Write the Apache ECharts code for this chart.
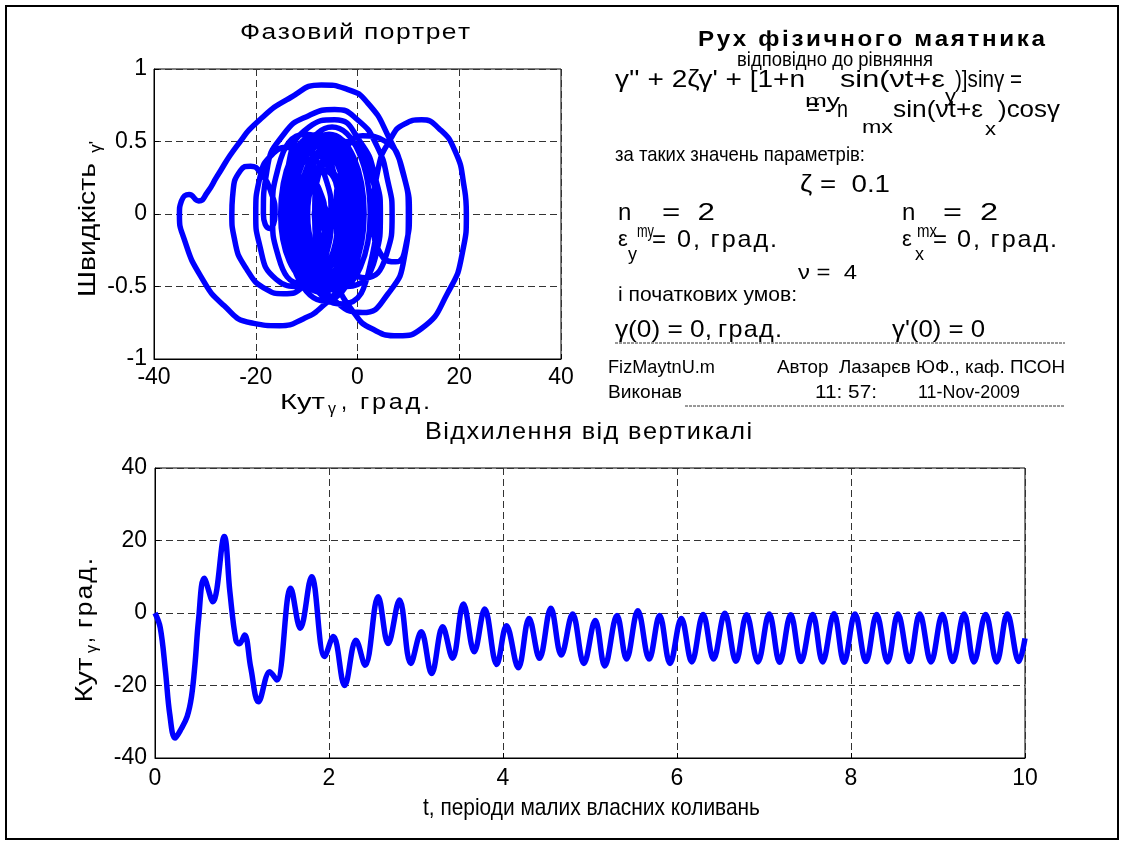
<!DOCTYPE html>
<html>
<head>
<meta charset="utf-8">
<script src="https://cdn.jsdelivr.net/npm/echarts@6/dist/echarts.min.js"></script>
<style>
  html, body { margin: 0; padding: 0; background: #fff; }
  #chart { width: 1126px; height: 848px; }
</style>
</head>
<body>
<div id="chart"></div>
<script>
// bottom plot: deflection from vertical (deg) vs time (periods of small oscillations)
const timeT = [
  0, 0.06, 0.12, 0.17, 0.23, 0.30, 0.37, 0.42, 0.46, 0.50,
  0.565, 0.665, 0.796, 0.86, 0.93, 0.97, 1.03, 1.10, 1.19, 1.32,
  1.40, 1.56, 1.67, 1.80, 1.95, 2.05, 2.18, 2.31, 2.415, 2.565,
  2.68, 2.81, 2.94, 3.06, 3.18, 3.307, 3.42, 3.545, 3.67, 3.79,
  3.928, 4.04, 4.176, 4.30, 4.42, 4.55, 4.67, 4.80, 4.93, 5.06,
  5.17, 5.31, 5.42, 5.55, 5.68, 5.80, 5.92, 6.05, 6.17, 6.30,
  6.42, 6.55, 6.678, 6.80, 6.93, 7.06, 7.18, 7.307, 7.425, 7.56,
  7.674, 7.805, 7.92, 8.046, 8.172, 8.295, 8.42, 8.54, 8.67, 8.79,
  8.92, 9.05, 9.17, 9.30, 9.414, 9.548, 9.675, 9.797, 9.93, 10.0
];
const angleDeg = [
  0, -4, -16, -28, -34.5, -32, -28.5, -23, -14, -2,
  9.6, 3.1, 21.1, 6, -7.5, -8.5, -6.1, -15, -24.5, -16.2,
  -18.5, 6.8, -4.2, 10, -12, -6.5, -20, -7.5, -14.4, 4.5,
  -8.4, 3.6, -13.9, -5.2, -16.7, -3.8, -12.5, 2.5, -10.7, 1.1,
  -14.2, -3.5, -15.1, -1.5, -12.5, 1.3, -11.6, -0.3, -13.9, -2.1,
  -14.6, -0.7, -12.7, 0.6, -12.7, -0.7, -13.9, -1.5, -13.5, -0.4,
  -12.7, -0.1, -13.3, -0.5, -13.5, -0.3, -13.6, -0.5, -13.4, -0.4,
  -13.5, -0.2, -13.6, -0.3, -13.4, -0.4, -13.5, -0.3, -13.4, -0.3,
  -13.5, -0.4, -13.4, -0.3, -13.5, -0.4, -13.5, -0.3, -13.4, -7
];

// top plot: phase portrait, angle (deg) and speed, in path order
const phaseAngle = [
  0, -1.5, -4, -7, -10.5, -15.3, -21, -26.3, -30.8, -34.1, -35,
  -34.6, -33.1, -31.2, -29.5, -27.6, -23.7, -19.2, -13.3, -7.1, -2, 1.9, 6, 9.3, 10.2,
  9.6, 7.5, 5, 3.1,
  4, 6.7, 9.2, 12.6, 16, 19.1, 20.9, 21.4,
  20.6, 17.8, 12.6, 8, 2.75, -0.5, -4.5, -7.5, -8.5,
  -7.3, -6.1,
  -7, -10.7, -14.6, -17.9, -21.8, -24.2, -24.7,
  -24.5, -23, -21, -19, -17, -16.2,
  -17.3, -18.5,
  -17.8, -14.5, -9.5, -4.5, 0, 3.8, 6, 6.8,
  5.5, 1.5, -2.5, -4.2,
  -3, 1, 5.5, 8.8, 10,
  9.2, 6, 1, -5, -9.5, -12,
  -11, -9.2, -7.3, -6.5,
  -7.8, -11.5, -16, -19.2, -20,
  -19.2, -16.5, -13.5, -10, -8, -7.5,
  -8.8, -11, -13.4, -14.4,
  -13.5, -9.5, -4.5, 0.5, 3.5, 4.5,
  3.5, -2, -6.5, -8.4,
  -7.2, -2.4, 1.8, 3.6,
  2.5, -3, -10, -12.8, -13.9,
  -12.8, -9.5, -6.3, -5.2,
  -6.3, -11, -15.5, -16.7,
  -15.5, -10.2, -5, -3.8,
  -7, -10.2, -6.6, -3, -6.4, -9.8, -6.5, -3.2, -6.8, -10.4, -6.2, -2,
  -8.1, -12.5, -5, 2.5, -4.1, -10.7, -4.8, 1.1, -6.5, -14.2,
  -8.8, -3.5, -9.3, -15.1, -8.3, -1.5, -7, -12.5, -5.6, 1.3,
  -5.2, -11.6, -6, -0.3, -7.1, -13.9, -8, -2.1, -8.3, -14.6,
  -7.6, -0.7, -6.7, -12.7, -6, 0.6, -6, -12.7, -6.7, -0.7,
  -7.3, -13.9, -7.7, -1.5, -7.5, -13.5, -7, -0.4, -6.5, -12.7,
  -6.4, -0.1, -6.7, -13.3, -6.9, -0.5, -7, -13.5, -6.9, -0.3,
  -6.9, -13.6, -7, -0.5, -6.9, -13.4, -6.9, -0.4
];
const phaseSpeed = [
  0, -0.3, -0.52, -0.64, -0.72, -0.77, -0.75, -0.63, -0.43, -0.17, 0,
  0.09, 0.135, 0.09, 0.15, 0.26, 0.47, 0.65, 0.8, 0.89, 0.86, 0.77, 0.54, 0.24, 0,
  -0.2, -0.33, -0.3, 0,
  0.3, 0.53, 0.62, 0.65, 0.59, 0.44, 0.2, 0,
  -0.27, -0.54, -0.79, -0.84, -0.79, -0.69, -0.45, -0.15, 0,
  0.07, 0,
  -0.28, -0.5, -0.55, -0.52, -0.38, -0.17, 0,
  0.14, 0.3, 0.33, 0.28, 0.15, 0,
  -0.1, 0,
  0.3, 0.55, 0.68, 0.72, 0.65, 0.47, 0.22, 0,
  -0.3, -0.44, -0.3, 0,
  0.33, 0.54, 0.5, 0.3, 0,
  -0.3, -0.55, -0.68, -0.58, -0.35, 0,
  0.18, 0.22, 0.15, 0,
  -0.3, -0.5, -0.45, -0.22, 0,
  0.25, 0.42, 0.46, 0.36, 0.18, 0,
  -0.22, -0.3, -0.2, 0,
  0.35, 0.6, 0.65, 0.5, 0.25, 0,
  -0.3, -0.5, -0.33, 0,
  0.33, 0.5, 0.35, 0,
  -0.35, -0.62, -0.45, -0.25, 0,
  0.25, 0.38, 0.25, 0,
  -0.3, -0.48, -0.3, 0,
  0.33, 0.55, 0.33, 0,
  -0.36, 0, 0.34, 0, -0.32, 0, 0.3, 0, -0.4, 0, 0.42, 0,
  -0.38, 0, 0.6, 0, -0.52, 0, 0.47, 0, -0.6, 0,
  0.42, 0, -0.46, 0, 0.54, 0, -0.44, 0, 0.55, 0,
  -0.51, 0, 0.45, 0, -0.54, 0, 0.47, 0, -0.5, 0,
  0.55, 0, -0.48, 0, 0.53, 0, -0.52, 0, 0.48, 0,
  -0.52, 0, 0.5, 0, -0.48, 0, 0.52, 0, -0.49, 0,
  0.5, 0, -0.52, 0, 0.51, 0, -0.52, 0, 0.52, 0,
  -0.53, 0, 0.5, 0, -0.51, 0, 0.5, 0
];

const phaseTicksX = [-40, 40, 20];   // min, max, step
const phaseTicksY = [-1, 1, 0.5];
const timeTicksX = [0, 10, 2];
const timeTicksY = [-40, 40, 20];

const FONT = '"Liberation Sans", Arial, sans-serif';
const meter = document.createElement('canvas').getContext('2d');
function textW(s, size, weight) {
  meter.font = weight + ' ' + size + 'px ' + FONT;
  return meter.measureText(s).width;
}

// one piece of text: x,y = left (or centre) and middle, w = width it takes in the picture
function txt(s, x, y, size, w, opt) {
  opt = opt || {};
  const weight = opt.bold ? 'bold' : 'normal';
  const sx = w ? w / textW(s, size, weight) : (opt.gs || 1);
  return {
    type: 'text', x: x, y: y, scaleX: sx, rotation: opt.rot || 0, silent: true, z: 10,
    style: {
      text: s, font: weight + ' ' + size + 'px ' + FONT, fill: '#000',
      textAlign: opt.align || 'left', textVerticalAlign: 'middle'
    }
  };
}

// letter-spaced text, one glyph at a time (glyphs widened by gs), spread over width w
function spread(s, x, y, size, w, opt) {
  opt = opt || {};
  const weight = opt.bold ? 'bold' : 'normal';
  const gs = opt.gs || 1.15;
  const chars = Array.from(s);
  const widths = chars.map(c => textW(c, size, weight) * gs);
  const gap = (w - widths.reduce((a, b) => a + b, 0)) / (chars.length - 1);
  let pos = 0;
  return chars.map((c, i) => {
    const el = opt.rot
      ? txt(c, x, y - pos, size, 0, { bold: opt.bold, rot: opt.rot, gs: gs })
      : txt(c, x + pos, y, size, 0, { bold: opt.bold, gs: gs });
    pos += widths[i] + gap;
    return el;
  });
}

function dashLine(x1, x2, y) {
  return {
    type: 'line', silent: true, z: 10,
    shape: { x1: x1, y1: y, x2: x2, y2: y },
    style: { stroke: '#333', lineWidth: 1, lineDash: [3, 1] }
  };
}

const UP = Math.PI / 2;

const graphics = [].concat(
  { type: 'rect', silent: true, z: 10, shape: { x: 6, y: 6, width: 1112, height: 833 },
    style: { fill: 'none', stroke: '#000', lineWidth: 2 } },

  // phase portrait titles
  spread('Фазовий портрет', 240, 33, 22, 230, { gs: 1.2 }),
  txt('Кут', 280, 403, 22, 45),
  txt('γ', 328, 410, 16),
  txt(',', 341, 403, 22),
  spread('град.', 360, 403, 22, 70),
  txt('Швидкість', 88, 230, 24, 134, { rot: UP, align: 'center' }),
  txt("γ'", 96, 147, 17, 0, { rot: UP, align: 'center' }),

  // time plot titles
  spread('Відхилення від вертикалі', 425, 433, 23, 327, { gs: 1.1 }),
  txt('t, періоди малих власних коливань', 423, 808, 24, 337),
  txt('Кут', 86, 680, 23, 45, { rot: UP, align: 'center' }),
  txt('γ', 93, 649, 16, 0, { rot: UP, align: 'center' }),
  txt(',', 86, 640, 23, 0, { rot: UP, align: 'center' }),
  spread('град.', 86, 628, 23, 70, { rot: UP }),

  // text block on the right
  spread('Рух фізичного маятника', 698, 40, 22, 347, { bold: true, gs: 1.1 }),
  txt('відповідно до рівняння', 737, 60, 20, 196),
  txt("γ'' + 2ζγ' + [1+n", 615, 80, 24, 190),
  txt('my', 805, 102, 19, 35),
  txt('sin(νt+ε', 840, 80, 24, 105),
  txt('y', 945, 97, 19, 11),
  txt(')]sinγ =', 955, 80, 24, 67),
  txt('=', 807, 108, 24, 13),
  txt('- n', 825, 110, 24, 23),
  txt('mx', 862, 128, 19, 31),
  txt('sin(νt+ε', 893, 110, 24, 90),
  txt('x', 985, 130, 19, 11),
  txt(')cosγ', 998, 110, 24, 62),
  txt('за таких значень параметрів:', 615, 155, 21, 250),
  txt('ζ =  0.1', 800, 185, 24, 90),
  txt('n', 618, 213, 24),
  txt('my', 637, 232, 18, 17),
  txt('=  2', 662, 213, 24, 53),
  txt('ε', 618, 240, 22),
  txt('y', 628, 255, 18),
  txt('=', 652, 240, 24),
  spread('0, град.', 677, 240, 24, 100, { gs: 1.05 }),
  txt('n', 902, 213, 24),
  txt('mx', 917, 232, 18, 20),
  txt('=  2', 943, 213, 24, 55),
  txt('ε', 902, 240, 22),
  txt('x', 915, 255, 18),
  txt('=', 933, 240, 24),
  spread('0, град.', 957, 240, 24, 100, { gs: 1.05 }),
  txt('ν =  4', 798, 273, 21, 59),
  txt('і початкових умов:', 618, 295, 21, 179),
  txt('γ(0) = 0,', 615, 330, 24, 97),
  spread('град.', 718, 330, 24, 64, { gs: 1.05 }),
  txt("γ'(0) = 0", 892, 330, 24, 93),
  dashLine(615, 1065, 343),
  txt('FizMaytnU.m', 608, 368, 19, 107),
  txt('Автор  Лазарєв ЮФ., каф. ПСОН', 777, 368, 19, 288),
  txt('Виконав', 608, 393, 19, 74),
  txt('11: 57:', 815, 393, 19, 62),
  txt('11-Nov-2009', 918, 393, 19, 102),
  dashLine(685, 1065, 406)
);

function valueAxis(gridIndex, ticks, margin) {
  return {
    type: 'value', gridIndex: gridIndex,
    min: ticks[0], max: ticks[1], interval: ticks[2],
    axisLine: { show: true, onZero: false, lineStyle: { color: '#000', width: 1 } },
    axisTick: { show: true, inside: true, length: 5, lineStyle: { color: '#000' } },
    axisLabel: { color: '#000', fontSize: 23, fontFamily: FONT, margin: margin, showMinLabel: true, showMaxLabel: true },
    splitLine: { show: true, lineStyle: { color: '#333', width: 1, type: [7, 4] } }
  };
}

const chart = echarts.init(document.getElementById('chart'), null, { renderer: 'canvas' });
chart.setOption({
  animation: false,
  backgroundColor: '#fff',
  grid: [
    { left: 154, top: 69, width: 407, height: 290, show: true, borderColor: '#000', borderWidth: 1, backgroundColor: '#fff' },
    { left: 155, top: 468, width: 870, height: 290, show: true, borderColor: '#000', borderWidth: 1, backgroundColor: '#fff' }
  ],
  xAxis: [valueAxis(0, phaseTicksX, 7), valueAxis(1, timeTicksX, 9)],
  yAxis: [valueAxis(0, phaseTicksY, 7), valueAxis(1, timeTicksY, 8)],
  series: [
    {
      type: 'line', xAxisIndex: 0, yAxisIndex: 0,
      data: phaseAngle.map((a, i) => [a, phaseSpeed[i]]),
      showSymbol: false, smooth: 0.55,
      lineStyle: { color: '#0000ff', width: 5.5 },
      silent: true
    },
    {
      type: 'line', xAxisIndex: 1, yAxisIndex: 1,
      data: timeT.map((t, i) => [t, angleDeg[i]]),
      showSymbol: false, smooth: 0.38,
      lineStyle: { color: '#0000ff', width: 5.5 },
      silent: true
    }
  ],
  graphic: graphics
});
</script>
</body>
</html>
